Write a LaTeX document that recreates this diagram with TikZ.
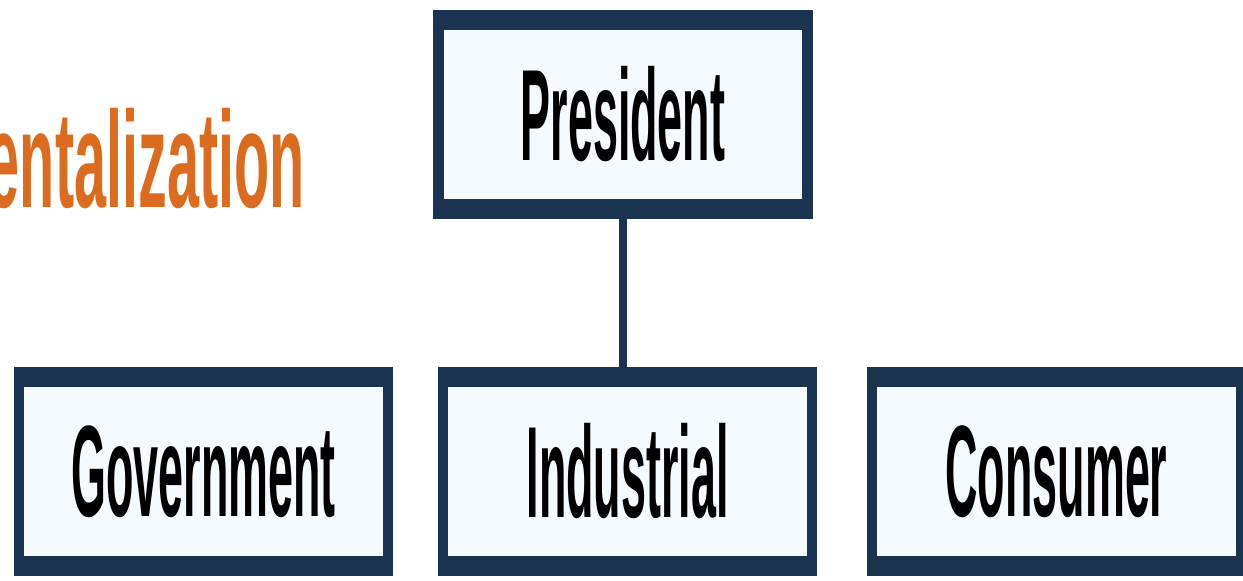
\documentclass[tikz,border=0pt]{standalone}
\usepackage{xcolor}
\usepackage{fontspec}
\usepackage{tikz}
\usetikzlibrary{positioning}
\definecolor{navy}{HTML}{1A3350}
\definecolor{paleblue}{HTML}{F4FAFD}
\definecolor{headline}{HTML}{DB6B1E}
\newfontfamily\boxfont{Liberation Sans}[FakeStretch=0.345]
\newfontfamily\headfont{Liberation Sans}[FakeStretch=0.42]

\begin{document}
\begin{tikzpicture}[
    unit/.style={draw=navy, fill=paleblue, line width=6.2pt, outer sep=0pt,
                 minimum width=7.38cm, minimum height=3.78cm,
                 font=\boxfont\bfseries\fontsize{74}{74}\selectfont},
    rim/.style={fill=navy}]
    \useasboundingbox (0,0) rectangle (24.86,11.6);

    % cut-off heading on the left
    \node[anchor=base east, inner sep=0pt, text=headline,
          font=\headfont\bfseries\fontsize{78}{78}\selectfont] (head) at (6.1,7.44) {entalization};

    \node[unit] (pres) at (12.46,9.31) {President};
    \node[unit, below=3.36cm of pres.south, anchor=north, xshift=0.09cm] (ind) {Industrial};
    \node[unit, left=1.1cm of ind] (gov) {Government};
    \node[unit, right=1.2cm of ind] (cons) {Consumer};

    % heavier top and bottom edges
    \foreach \n in {pres, ind, gov, cons} {
      \path[rim] ([shift={(-3.1pt,-5.7pt)}]\n.north west) rectangle ([shift={(3.1pt,5.7pt)}]\n.north east);
      \path[rim] ([shift={(-3.1pt,-5.7pt)}]\n.south west) rectangle ([shift={(3.1pt,5.7pt)}]\n.south east);
    }

    \draw[navy, line width=5.1pt] (pres.south) -- (pres.south |- ind.north);
  \end{tikzpicture}
\end{document}
